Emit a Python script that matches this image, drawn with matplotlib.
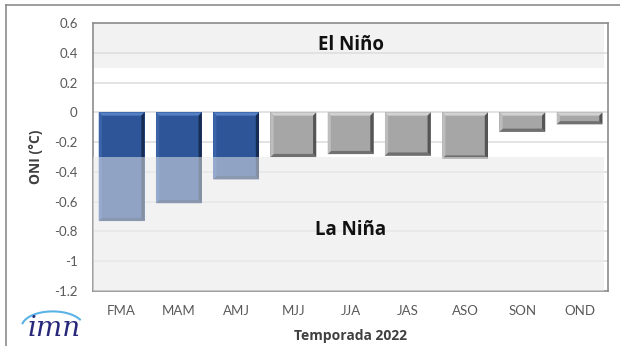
import matplotlib
matplotlib.use("Agg")
import matplotlib.pyplot as plt
from matplotlib.patches import Polygon
from matplotlib.lines import Line2D
import numpy as np

plt.rcParams['font.family'] = ['Lato', 'DejaVu Sans']

seasons = ["FMA", "MAM", "AMJ", "MJJ", "JJA", "JAS", "ASO", "SON", "OND"]
oni = [-0.73, -0.61, -0.45, -0.30, -0.28, -0.29, -0.31, -0.13, -0.08]
phase = ["nina", "nina", "nina", "neutral", "neutral", "neutral", "neutral", "neutral", "neutral"]
yticks = [0.6, 0.4, 0.2, 0, -0.2, -0.4, -0.6, -0.8, -1, -1.2]
ytick_labels = ["0.6", "0.4", "0.2", "0", "-0.2", "-0.4", "-0.6", "-0.8", "-1", "-1.2"]
threshold = 0.3

palette = {
    "nina":    {"main": "#2e5597", "top": "#5580c4", "left": "#3a63a8", "right": "#172c52", "bottom": "#203d6c"},
    "neutral": {"main": "#a6a6a6", "top": "#d2d2d2", "left": "#bdbdbd", "right": "#555555", "bottom": "#707070"},
}

fig = plt.figure(figsize=(6.2, 3.46), dpi=100)
ax = fig.add_axes([0.150, 0.159, 0.831, 0.774])

ymin, ymax = -1.2, 0.6
ax.set_ylim(ymin, ymax)
ax.set_xlim(-0.5, len(seasons) - 0.5)

band_color = "#f2f2f2"
ax.axhspan(threshold, ymax, xmin=0, xmax=0.992, color=band_color, zorder=0, lw=0)
ax.axhspan(ymin, -threshold, xmin=0, xmax=0.992, color=band_color, zorder=0, lw=0)

ax.set_yticks(yticks)
ax.set_yticklabels(ytick_labels)
ax.yaxis.grid(True, color="#dedede", lw=1.2, zorder=1)
ax.set_axisbelow(True)

x = np.arange(len(seasons))
bars = ax.bar(x, oni, width=0.8, color=[palette[p]["main"] for p in phase], zorder=2, lw=0)

fig.canvas.draw()
inv = ax.transData.inverted()
p0 = inv.transform((0, 0))
p1 = inv.transform((3.2, 3.2))
dx = p1[0] - p0[0]
dy = p1[1] - p0[1]

for b, p in zip(bars, phase):
    c = palette[p]
    x0 = b.get_x(); x1 = x0 + b.get_width()
    ytop = max(b.get_y(), b.get_y() + b.get_height())
    ybot = min(b.get_y(), b.get_y() + b.get_height())
    polys = [
        ([(x0, ytop), (x1, ytop), (x1 - dx, ytop - dy), (x0 + dx, ytop - dy)], c["top"]),
        ([(x0, ybot), (x1, ybot), (x1 - dx, ybot + dy), (x0 + dx, ybot + dy)], c["bottom"]),
        ([(x0, ytop), (x0 + dx, ytop - dy), (x0 + dx, ybot + dy), (x0, ybot)], c["left"]),
        ([(x1, ytop), (x1 - dx, ytop - dy), (x1 - dx, ybot + dy), (x1, ybot)], c["right"]),
    ]
    for pts, col in polys:
        ax.add_patch(Polygon(pts, closed=True, facecolor=col, edgecolor="none", zorder=2.5))

ax.axhspan(ymin, -threshold, xmin=0, xmax=0.992, color=band_color, alpha=0.5, zorder=3, lw=0)

for s in ax.spines.values():
    s.set_color("#8c8c8c")
    s.set_linewidth(1.2)

ax.set_xticks(x)
ax.set_xticklabels(seasons)
ax.tick_params(axis="both", length=0, labelsize=9.5, labelcolor="#595959")
ax.tick_params(axis="y", pad=11)
ax.tick_params(axis="x", pad=10)

ax.set_ylabel("ONI (°C)", fontsize=10, fontweight="bold", color="#404040", labelpad=8,
              family=["Open Sans", "DejaVu Sans"])
ax.set_xlabel("Temporada 2022", fontsize=10, fontweight="bold", color="#404040", labelpad=9,
              family=["Open Sans", "DejaVu Sans"])

ax.text(4.0, 0.45, "El Niño", ha="center", va="center", fontsize=13.5, fontweight="bold",
        color="#111111", zorder=5, family=["Open Sans", "DejaVu Sans"])
ax.text(4.0, -0.79, "La Niña", ha="center", va="center", fontsize=13.5, fontweight="bold",
        color="#111111", zorder=5, family=["Open Sans", "DejaVu Sans"])

fig.add_artist(Line2D([6/620, 1], [1 - 5/346, 1 - 5/346], color="#8c8c8c", lw=1.2))
fig.add_artist(Line2D([6/620, 6/620], [0, 1 - 5/346], color="#8c8c8c", lw=1.2))

# logo
fig.text(0.045, 0.03, "imn", fontsize=20, family="DejaVu Serif", style="italic", color="#27287a")
theta = np.linspace(0.5, 2.9, 30)
fig.add_artist(Line2D(0.085 + 0.05 * np.cos(theta), 0.055 + 0.045 * np.sin(theta),
                      color="#5ab2e6", lw=1.5))

fig.savefig("out.png", dpi=100)
